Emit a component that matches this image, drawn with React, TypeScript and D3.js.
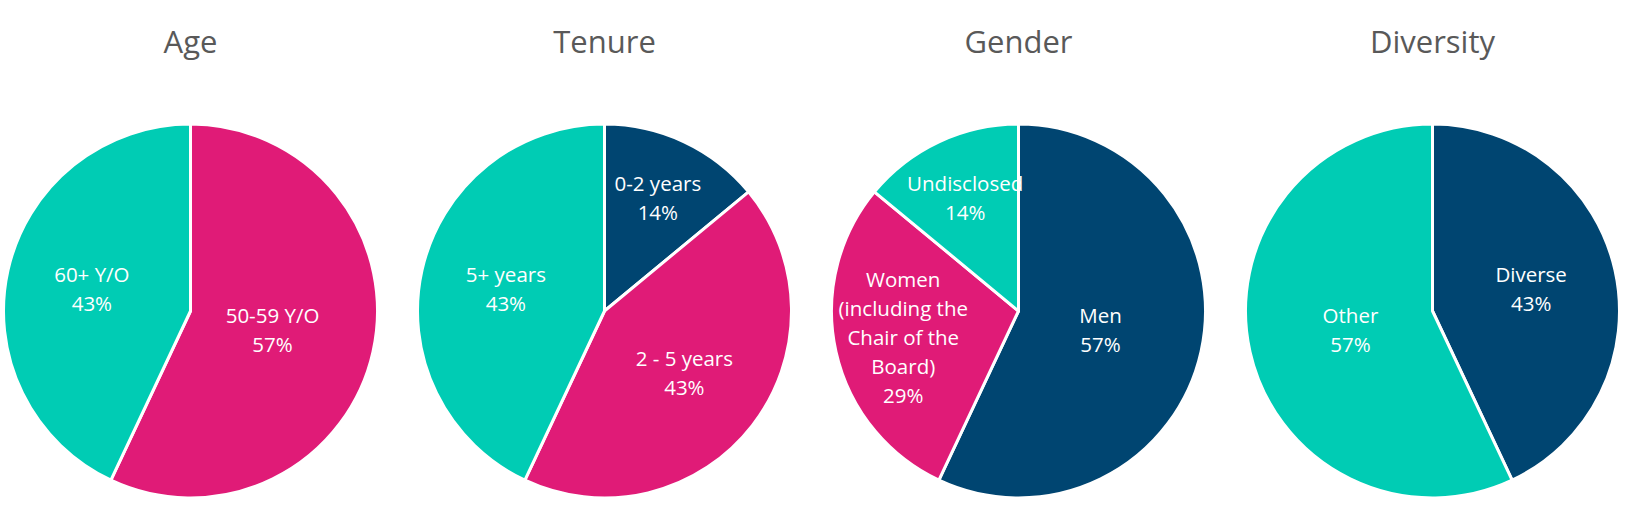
import React from 'react';
import * as d3 from 'd3';

const chartTitles = ['Age', 'Tenure', 'Gender', 'Diversity'];

const ageCategories = ['50-59 Y/O', '60+ Y/O'];
const ageValues = [57, 43];
const ageColors = ['#E01B77', '#00CCB4'];

const tenureCategories = ['0-2 years', '2 - 5 years', '5+ years'];
const tenureValues = [14, 43, 43];
const tenureColors = ['#004571', '#E01B77', '#00CCB4'];

const genderCategories = ['Men', 'Women (including the Chair of the Board)', 'Undisclosed'];
const genderValues = [57, 29, 14];
const genderColors = ['#004571', '#E01B77', '#00CCB4'];

const diversityCategories = ['Diverse', 'Other'];
const diversityValues = [43, 57];
const diversityColors = ['#004571', '#00CCB4'];

const width = 1626,
      height = 531;

interface Slice {
  label: string,
  value: number,
  color: string
}

// greedy word wrap, good enough for the one long label
const wrap = (text: string, maxChars = 14): string[] => {
  const lines: string[] = [];
  let cur = '';
  text.split(' ').forEach(w => {
    const next = cur ? cur + ' ' + w : w;
    if (next.length > maxChars && cur) {
      lines.push(cur);
      cur = w;
    } else {
      cur = next;
    }
  });
  if (cur) lines.push(cur);
  return lines;
};

const Pie = ({slices, cx, cy, radius}: {slices: Slice[], cx: number, cy: number, radius: number}) => {
  const pie = d3.pie<Slice>().value(d => d.value).sort(null);
  const arc = d3.arc<d3.PieArcDatum<Slice>>().innerRadius(0).outerRadius(radius);
  const arcs = pie(slices);
  const lineH = 29;

  return (
    <g transform={`translate(${cx},${cy})`}>
      {arcs.map((a, i) => (
        <path key={i} d={arc(a) || ''} fill={a.data.color} stroke="#fff" strokeWidth={3} strokeLinejoin="round" />
      ))}
      {arcs.map((a, i) => {
        // bigger slices keep their label closer to the middle (like excel's best fit)
        const share = (a.endAngle - a.startAngle) / (2 * Math.PI);
        const f = Math.min(0.67, 0.82 - 0.65 * share);
        const labelArc = d3.arc<d3.PieArcDatum<Slice>>().innerRadius(radius * f).outerRadius(radius * f);
        const [x, y] = labelArc.centroid(a);
        const lines = [...wrap(a.data.label), `${a.data.value}%`];
        const y0 = y - ((lines.length - 1) * lineH) / 2;
        return (
          <text key={'t' + i} x={x} y={y0} textAnchor="middle" dominantBaseline="central"
                fill="#fff" fontSize={20.5} fontFamily="'Open Sans', sans-serif">
            {lines.map((l, j) => (
              <tspan key={j} x={x} y={y0 + j * lineH}>{l}</tspan>
            ))}
          </text>
        );
      })}
    </g>
  );
};

const App = () => {
  const toSlices = (cats: string[], vals: number[], cols: string[]): Slice[] =>
    cats.map((c, i) => ({label: c, value: vals[i], color: cols[i]}));

  const charts = [
    toSlices(ageCategories, ageValues, ageColors),
    toSlices(tenureCategories, tenureValues, tenureColors),
    toSlices(genderCategories, genderValues, genderColors),
    toSlices(diversityCategories, diversityValues, diversityColors)
  ];

  const x = d3.scalePoint<string>().domain(chartTitles).range([190.5, 1432.5]);
  const radius = 187;
  const cy = 311;

  return (
    <svg width={width} height={height} style={{position: 'absolute', left: 0, top: 0, background: '#fff'}}>
      {chartTitles.map((t, i) => (
        <g key={t}>
          <text x={x(t)} y={52.5} textAnchor="middle" fill="#595959" fontSize={31}
                fontFamily="'Open Sans', sans-serif">{t}</text>
          <Pie slices={charts[i]} cx={x(t) as number} cy={cy} radius={radius} />
        </g>
      ))}
    </svg>
  );
};

export default App;
